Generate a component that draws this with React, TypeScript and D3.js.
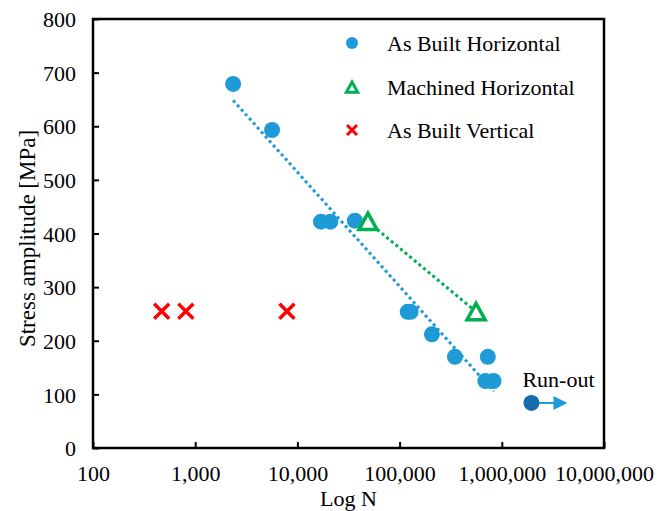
import React, { useEffect, useRef } from 'react';
import * as d3 from 'd3';

// As Built Horizontal (blue dots)
const abhCycles = [2350, 5650, 17000, 21000, 36500, 120000, 128000, 207000, 348000, 730000, 690000, 830000];
const abhStress = [679, 593, 422, 422, 424, 254, 254, 212, 170, 170, 125, 125];
// Machined Horizontal (green triangles)
const mhCycles = [49000, 560000];
const mhStress = [422, 254];
// As Built Vertical (red crosses)
const abvCycles = [470, 810, 7900];
const abvStress = [255, 255, 255];
// run-out specimen
const runOutCycles = [1950000];
const runOutStress = [84];

const xTicks = [100, 1000, 10000, 100000, 1000000, 10000000];
const yTicks = [0, 100, 200, 300, 400, 500, 600, 700, 800];
const legendLabels = ['As Built Horizontal', 'Machined Horizontal', 'As Built Vertical'];

const W = 666, H = 511;
const margin = { top: 19, right: 62, bottom: 63, left: 93 };
const FONT = '"Liberation Serif", "Times New Roman", serif';
const BLUE = '#1e9bd7';
const DARK_BLUE = '#166aae';
const GREEN = '#00b050';
const RED = '#ff0000';

const App = () => {
  const ref = useRef<SVGSVGElement>(null);

  useEffect(() => {
    const svg = d3.select(ref.current);
    svg.selectAll('*').remove();

    const width = W - margin.left - margin.right;
    const height = H - margin.top - margin.bottom;

    const x = d3.scaleLog().domain([100, 10000000]).range([0, width]);
    const y = d3.scaleLinear().domain([0, 800]).range([height, 0]);

    const g = svg.append('g').attr('transform', `translate(${margin.left},${margin.top})`);

    // axes, ticks pointing inward
    const xAxis = g.append('g')
      .attr('transform', `translate(0,${height})`)
      .call(d3.axisBottom(x).tickValues(xTicks).tickSize(-6).tickSizeOuter(0)
        .tickFormat((d) => d3.format(',')(d as number)));
    xAxis.select('.domain').remove();
    xAxis.selectAll('line').attr('stroke', '#000').attr('stroke-width', 2);
    xAxis.selectAll('text')
      .attr('y', 33)
      .attr('dy', 0)
      .style('font-family', FONT)
      .style('font-size', '22px')
      .attr('fill', '#000');

    const yAxis = g.append('g')
      .call(d3.axisLeft(y).tickValues(yTicks).tickSize(-6).tickSizeOuter(0));
    yAxis.select('.domain').remove();
    yAxis.selectAll('line').attr('stroke', '#000').attr('stroke-width', 2);
    yAxis.selectAll('text')
      .attr('x', -17)
      .attr('dy', '0.35em')
      .style('font-family', FONT)
      .style('font-size', '22px')
      .attr('fill', '#000');

    // frame
    g.append('rect')
      .attr('width', width)
      .attr('height', height)
      .attr('fill', 'none')
      .attr('stroke', '#000')
      .attr('stroke-width', 2.5);

    // axis titles
    svg.append('text')
      .attr('x', margin.left + width / 2)
      .attr('y', 506)
      .attr('text-anchor', 'middle')
      .style('font-family', FONT)
      .style('font-size', '22px')
      .text('Log N');

    svg.append('text')
      .attr('transform', `translate(35,${margin.top + height / 2 + 5}) rotate(-90)`)
      .attr('text-anchor', 'middle')
      .style('font-family', FONT)
      .style('font-size', '23px')
      .text('Stress amplitude [MPa]');

    // logarithmic trendlines (least squares on log10 N)
    const trend = (xs: number[], ys: number[]) => {
      const lx = xs.map((v) => Math.log10(v));
      const mx = d3.mean(lx) as number;
      const my = d3.mean(ys) as number;
      const sxy = d3.sum(lx, (v, i) => (v - mx) * (ys[i] - my));
      const sxx = d3.sum(lx, (v) => (v - mx) * (v - mx));
      const b = sxy / sxx;
      const a = my - b * mx;
      const [x0, x1] = d3.extent(xs) as [number, number];
      return [[x0, a + b * Math.log10(x0)], [x1, a + b * Math.log10(x1)]];
    };
    const line = d3.line<number[]>().x((d) => x(d[0])).y((d) => y(d[1]));

    g.append('path')
      .attr('d', line(trend(abhCycles, abhStress)))
      .attr('fill', 'none')
      .attr('stroke', BLUE)
      .attr('stroke-width', 3)
      .attr('stroke-dasharray', '3 3');

    g.append('path')
      .attr('d', line(trend(mhCycles, mhStress)))
      .attr('fill', 'none')
      .attr('stroke', GREEN)
      .attr('stroke-width', 3)
      .attr('stroke-dasharray', '3 3');

    // As Built Horizontal points
    g.selectAll('.abh')
      .data(abhCycles)
      .enter().append('circle')
      .attr('cx', (d) => x(d))
      .attr('cy', (d, i) => y(abhStress[i]))
      .attr('r', 8)
      .attr('fill', BLUE);

    // run-out
    runOutCycles.forEach((c, i) => {
      const cx = x(c), cy = y(runOutStress[i]);
      g.append('line')
        .attr('x1', cx).attr('x2', cx + 24)
        .attr('y1', cy).attr('y2', cy)
        .attr('stroke', BLUE).attr('stroke-width', 2);
      g.append('path')
        .attr('d', `M${cx + 22},${cy - 7}L${cx + 36},${cy}L${cx + 22},${cy + 7}Z`)
        .attr('fill', BLUE);
      g.append('circle')
        .attr('cx', cx).attr('cy', cy).attr('r', 8)
        .attr('fill', DARK_BLUE);
      g.append('text')
        .attr('x', cx - 9)
        .attr('y', cy - 16)
        .style('font-family', FONT)
        .style('font-size', '22px')
        .text('Run-out');
    });

    // Machined Horizontal triangles
    const tri = (s: number) => `M0,${-s}L${s * 0.95},${s * 0.72}L${-s * 0.95},${s * 0.72}Z`;
    g.selectAll('.mh')
      .data(mhCycles)
      .enter().append('path')
      .attr('transform', (d, i) => `translate(${x(d)},${y(mhStress[i]) + 1})`)
      .attr('d', tri(9.5))
      .attr('fill', '#fff')
      .attr('stroke', GREEN)
      .attr('stroke-width', 3.5)
      .attr('stroke-linejoin', 'miter');

    // As Built Vertical crosses
    const cross = (s: number) => `M${-s},${-s}L${s},${s}M${-s},${s}L${s},${-s}`;
    g.selectAll('.abv')
      .data(abvCycles)
      .enter().append('path')
      .attr('transform', (d, i) => `translate(${x(d)},${y(abvStress[i])})`)
      .attr('d', cross(7.5))
      .attr('stroke', RED)
      .attr('stroke-width', 3.5)
      .attr('fill', 'none');

    // legend
    const legend = svg.append('g');
    const rowY = [43, 87, 130];
    legendLabels.forEach((label, i) => {
      const ly = rowY[i];
      if (i === 0) {
        legend.append('circle').attr('cx', 352).attr('cy', ly).attr('r', 6).attr('fill', BLUE);
      } else if (i === 1) {
        legend.append('path')
          .attr('transform', `translate(352,${ly + 1})`)
          .attr('d', tri(6))
          .attr('fill', '#fff')
          .attr('stroke', GREEN)
          .attr('stroke-width', 3);
      } else {
        legend.append('path')
          .attr('transform', `translate(352,${ly})`)
          .attr('d', cross(5))
          .attr('stroke', RED)
          .attr('stroke-width', 3)
          .attr('fill', 'none');
      }
      legend.append('text')
        .attr('x', 387)
        .attr('y', ly + 8)
        .style('font-family', FONT)
        .style('font-size', '22px')
        .text(label);
    });
  }, []);

  return (
    <svg
      ref={ref}
      width={W}
      height={H}
      style={{ position: 'absolute', left: 0, top: 0, background: '#fff' }}
    />
  );
};

export default App;
